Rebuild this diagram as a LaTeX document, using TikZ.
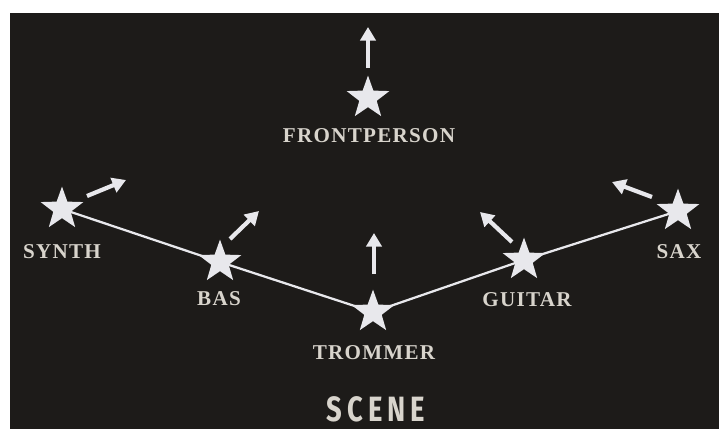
\documentclass[tikz,border=0pt]{standalone}
\usepackage{fontspec}
\usetikzlibrary{shapes.geometric,arrows.meta}
\newfontfamily\labelfont[LetterSpace=6]{Liberation Serif}
\newfontfamily\scenefont[FakeStretch=0.78,LetterSpace=14]{Fira Sans}

\definecolor{board}{RGB}{29,27,25}
\definecolor{chalk}{RGB}{232,232,236}
\definecolor{ink}{RGB}{216,212,204}

\begin{document}
\begin{tikzpicture}[
    x=0.025cm, y=-0.025cm,
    player/.style={star, star points=5, star point ratio=2.45, fill=chalk, draw=none, inner sep=0pt, minimum size=1.12cm},
    rolelabel/.style={text=ink, font=\labelfont\bfseries\fontsize{15}{16}\selectfont, inner sep=0pt},
    facing/.style={draw=chalk, line width=3pt, -{Triangle[length=0.34cm, width=0.38cm]}},
    stage/.style={draw=chalk, line width=1.6pt}
]
% page and board
\fill[white] (0,0) rectangle (719,429);
\fill[board] (10,13) rectangle (719,429);
\useasboundingbox (0,0) rectangle (719,429);

% Stars
\node[player] (front) at (368,98) {};
\node[player] (synth) at (62,209) {};
\node[player] (bas) at (220,262) {};
\node[player] (trommer) at (373,312) {};
\node[player] (guitar) at (524,260) {};
\node[player] (sax) at (678,211) {};

% Stage line
\draw[stage] (synth.center) -- (bas.center) -- (trommer.center) -- (guitar.center) -- (sax.center);

% Labels
\node[rolelabel] (frontlbl) at (369,136) {FRONTPERSON};
\node[rolelabel] (synthlbl) at (62,252) {SYNTH};
\node[rolelabel] (baslbl) at (219,299) {BAS};
\node[rolelabel] (trommerlbl) at (374,353) {TROMMER};
\node[rolelabel] (guitarlbl) at (527,300) {GUITAR};
\node[rolelabel] (saxlbl) at (679,252) {SAX};
\node[text=ink, font=\scenefont\bfseries\fontsize{25}{26}\selectfont, inner sep=0pt] (scene) at (376,409) {SCENE};

% Arrows
\draw[facing] (front) ++(0,-30) -- ++(0,-41);
\draw[facing] (synth) ++(25,-13) -- ++(39,-16);
\draw[facing] (bas) ++(10,-23) -- ++(29,-28);
\draw[facing] (trommer) ++(1,-38) -- ++(0,-41);
\draw[facing] (guitar) ++(-12,-18) -- ++(-32,-30);
\draw[facing] (sax) ++(-26,-14) -- ++(-40,-15);
\end{tikzpicture}
\end{document}
